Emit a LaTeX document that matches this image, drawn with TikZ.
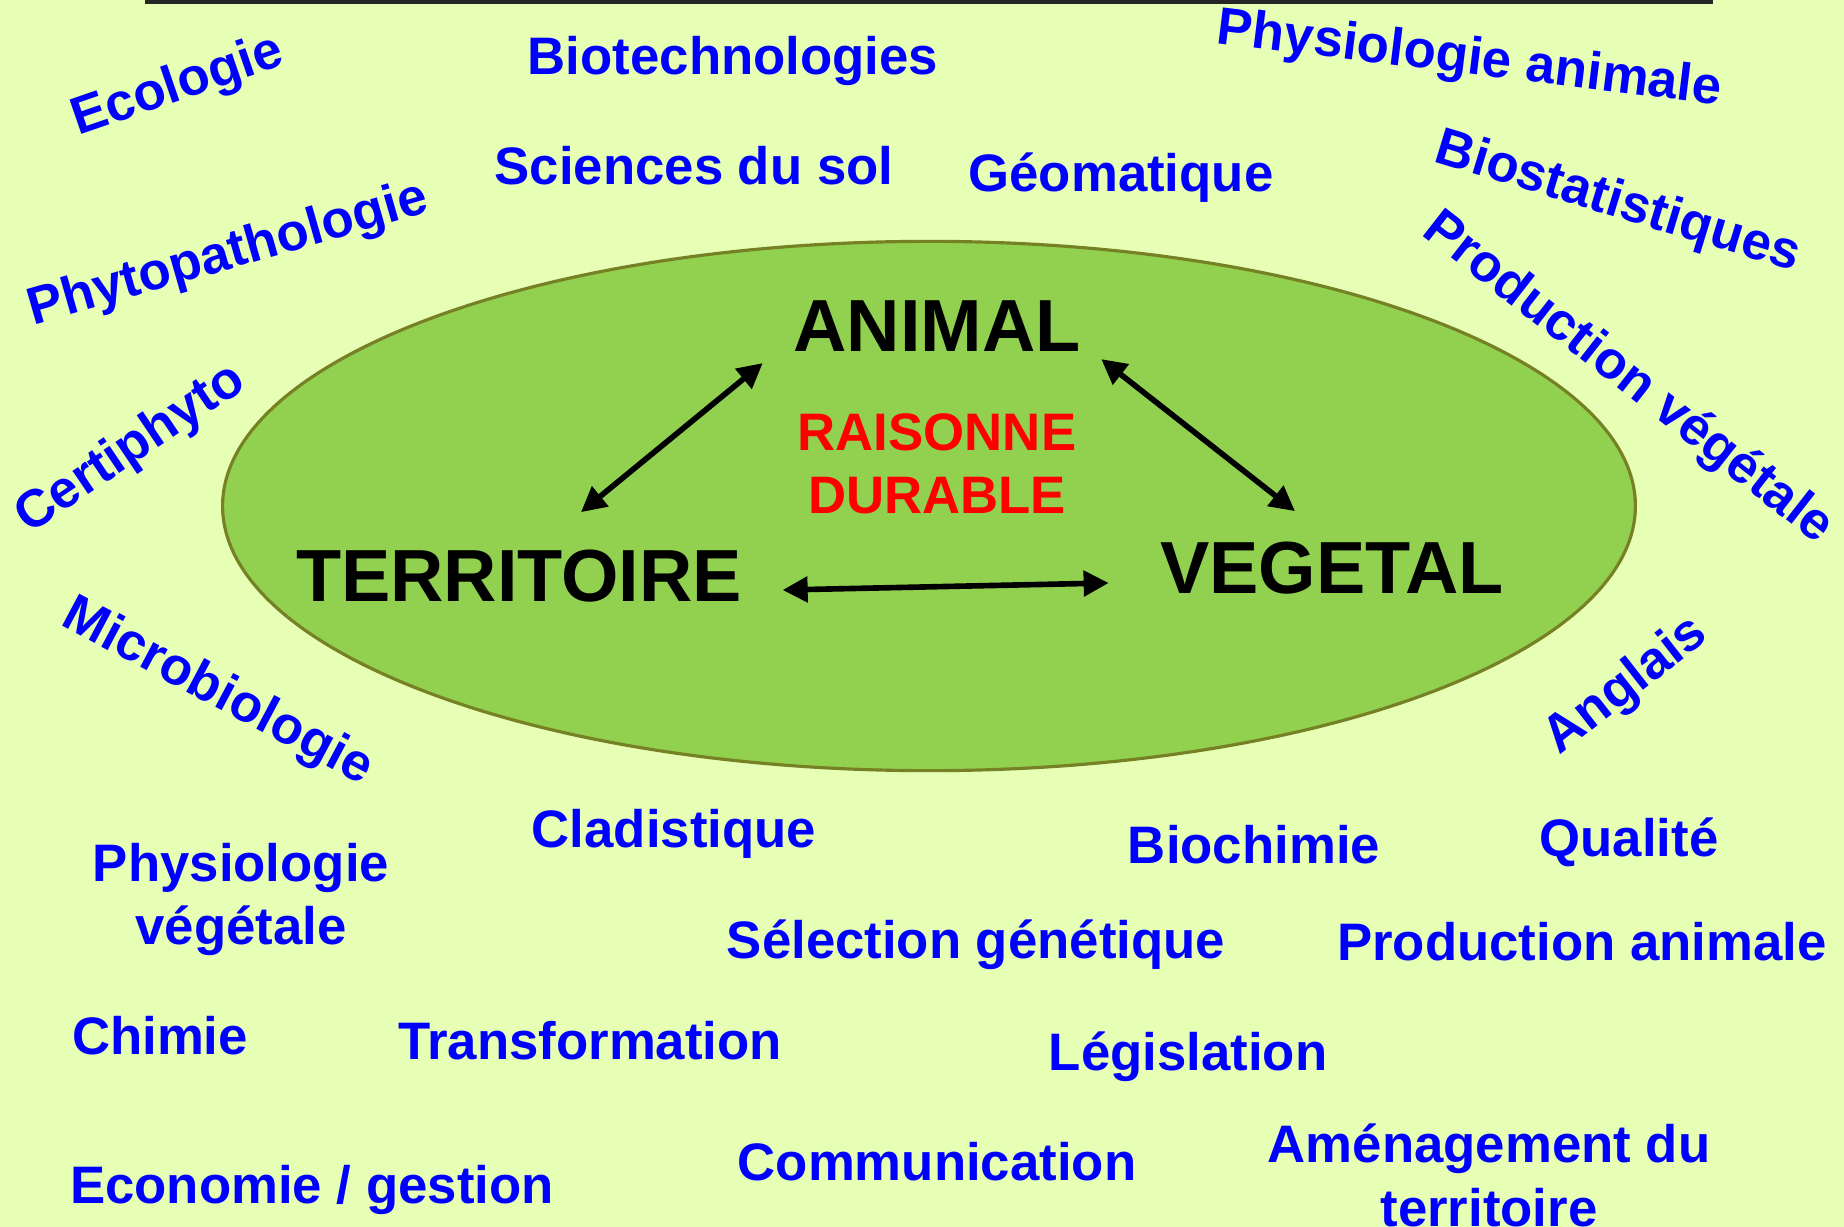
\documentclass[tikz,border=0pt]{standalone}
\usepackage{fontspec}
\setmainfont{Liberation Sans}
\usetikzlibrary{arrows.meta,shapes.geometric}
\definecolor{bgyellow}{RGB}{230,255,180}
\definecolor{fieldgreen}{RGB}{146,208,80}
\definecolor{fieldedge}{RGB}{118,128,36}

\begin{document}
\begin{tikzpicture}[x=0.01cm,y=-0.01cm,
  topic/.style={text=blue,font=\fontsize{15}{18}\selectfont\bfseries,inner sep=0pt,text depth=0pt,align=center},
  pole/.style={font=\fontsize{21}{25}\selectfont\bfseries,inner sep=0pt},
  motto/.style={text=red,font=\fontsize{15}{18}\selectfont\bfseries,inner sep=0pt,align=center},
  oval/.style={ellipse,draw=fieldedge,line width=0.9pt,fill=fieldgreen,minimum width=14.12cm,minimum height=5.29cm,inner sep=0pt},
  biarr/.style={{Triangle[length=0.25cm,width=0.25cm]}-{Triangle[length=0.25cm,width=0.25cm]},line width=1.6pt}]
  \useasboundingbox (0,0) rectangle (1844,1227);
  \fill[bgyellow] (0,0) rectangle (1844,1227);
  \draw[line width=1.2pt,black!85] (147,-20) rectangle (1711,1.5);

  \node[oval] (field) at (929,506) {};
  \node[pole] (anim) at (937,326) {ANIMAL};
  \node[pole] (terr) at (519,576) {TERRITOIRE};
  \node[pole] (vege) at (1332,568) {VEGETAL};
  \node[motto] (durable) at (937,464) {RAISONNE\\DURABLE};
  \draw[biarr] ([shift={(62,-37)}]terr.north) -- ([shift={(-30,11)}]anim.south west);
  \draw[biarr] ([shift={(20,7)}]anim.south east) -- ([shift={(-37,-30)}]vege.north);
  \draw[biarr] ([shift={(40,14)}]terr.east) -- ([shift={(-51,15)}]vege.west);

  \node[topic,rotate=19] (ecol) at (176,82) {Ecologie};
  \node[topic] (biotech) at (733,55) {Biotechnologies};
  \node[topic,rotate=-7] (physani) at (1470,55) {Physiologie animale};
  \node[topic] (sol) at (694,165) {Sciences du sol};
  \node[topic] (geom) at (1121,172) {Géomatique};
  \node[topic,rotate=-17] (biostat) at (1619,198) {Biostatistiques};
  \node[topic,rotate=-38] (prodveg) at (1631,374) {Production végétale};
  \node[topic,rotate=16] (phyto) at (227,250) {Phytopathologie};
  \node[topic,rotate=34] (certi) at (128,445) {Certiphyto};
  \node[topic,rotate=-28] (micro) at (220,688) {Microbiologie};
  \node[topic,rotate=38] (angl) at (1623,682) {Anglais};
  \node[topic] (clad) at (674,828) {Cladistique};
  \node[topic] (biochi) at (1254,844) {Biochimie};
  \node[topic] (qual) at (1629,837) {Qualité};
  \node[topic] (physveg) at (241,894) {Physiologie\\végétale};
  \node[topic] (select) at (976,939) {Sélection génétique};
  \node[topic] (prodani) at (1582,941) {Production animale};
  \node[topic] (chim) at (160,1035) {Chimie};
  \node[topic] (transf) at (590,1040) {Transformation};
  \node[topic] (legis) at (1188,1051) {Législation};
  \node[topic] (comm) at (937,1161) {Communication};
  \node[topic] (eco) at (312,1184) {Economie / gestion};
  \node[topic] (amenag) at (1489,1175) {Aménagement du\\territoire};
\end{tikzpicture}
\end{document}
